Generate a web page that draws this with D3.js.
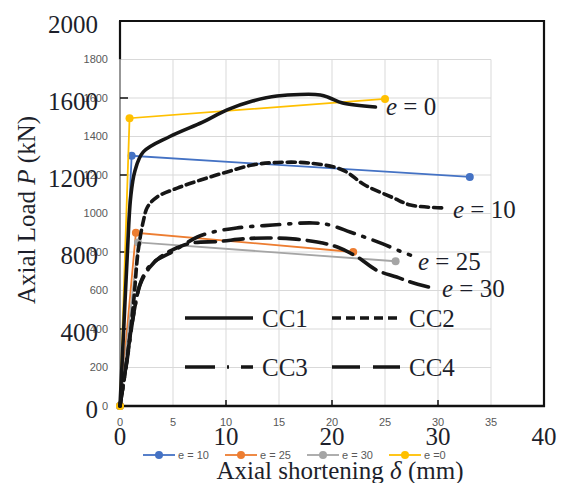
<!DOCTYPE html>
<html lang="en">
<head>
<meta charset="UTF-8">
<title>Axial load vs axial shortening</title>
<script src="https://d3js.org/d3.v7.min.js"></script>
<style>
    body { margin: 0; background: #fff; }
    svg { display: block; }
</style>
</head>
<body>
<script>
    // ---- excel series (with markers), delta in mm, load in kN ----
    var delta_e10 = [0, 1.1, 33];
    var load_e10 = [0, 1300, 1190];
    var delta_e25 = [0, 1.5, 22];
    var load_e25 = [0, 900, 800];
    var delta_e30 = [0, 1.7, 26];
    var load_e30 = [0, 850, 752];
    var delta_e0 = [0, 0.9, 25];
    var load_e0 = [0, 1495, 1595];

    // ---- measured curves (black) ----
    var delta_cc1 = [0, 0.35, 0.7, 1.0, 1.4, 2.2, 4.7, 7.8, 10.1, 12.5, 14.8, 18.9, 19.8, 21.0, 24.1];
    var load_cc1 = [0, 400, 800, 1080, 1220, 1320, 1400, 1475, 1538, 1584, 1610, 1616, 1600, 1574, 1553];
    var delta_cc2 = [0, 0.8, 1.3, 1.7, 2.2, 2.6, 3.5, 5.4, 7.6, 10.1, 12.5, 14.8, 17.9, 21.0, 23.1, 25.8, 27.4, 30.5];
    var load_cc2 = [0, 300, 550, 800, 960, 1034, 1086, 1132, 1174, 1216, 1252, 1265, 1262, 1226, 1148, 1081, 1044, 1029];
    var delta_cc3 = [0, 0.7, 1.3, 2.0, 3.0, 4.9, 7.3, 8.8, 11.0, 14.4, 18.2, 19.8, 21.7, 23.3, 24.8, 26.4, 27.4];
    var load_cc3 = [0, 250, 480, 650, 740, 800, 878, 904, 925, 940, 951, 940, 904, 873, 842, 805, 784];
    var delta_cc4 = [0, 0.6, 1.2, 1.9, 2.8, 3.8, 4.9, 6.6, 9.4, 11.6, 13.9, 16.3, 18.6, 20.5, 22.4, 24.2, 26.1, 27.4, 29.1];
    var load_cc4 = [0, 220, 450, 630, 720, 774, 810, 845, 855, 868, 873, 868, 852, 826, 774, 706, 670, 644, 618];

    // ---- tick labels ----
    var big_x_ticks = [0, 10, 20, 30, 40];
    var big_y_ticks = [0, 400, 800, 1200, 1600, 2000];
    var small_x_ticks = [0, 5, 10, 15, 20, 25, 30, 35];
    var small_y_ticks = [0, 200, 400, 600, 800, 1000, 1200, 1400, 1600, 1800];

    var series_names = ['e = 10', 'e = 25', 'e = 30', 'e =0'];
    var series_colors = ['#4472c4', '#ed7d31', '#a5a5a5', '#ffc000'];
    var curve_names = ['CC1', 'CC2', 'CC3', 'CC4'];
    var curve_labels = ['e = 0', 'e = 10', 'e = 25', 'e = 30'];

    var width = 570, height = 483;
    var svg = d3.select('body').append('svg')
        .attr('width', width)
        .attr('height', height);

    var x = d3.scaleLinear().domain([0, 40]).range([120, 544]);
    var y = d3.scaleLinear().domain([0, 2000]).range([406, 21]);

    var serif = '"Liberation Serif", "Times New Roman", serif';
    var sans = '"Liberation Sans", Arial, sans-serif';
    var ink = '#1d1f2b';

    function zip(xs, ys) {
        return xs.map(function (d, i) { return [d, ys[i]]; });
    }

    // excel gridlines
    var grid = svg.append('g');
    grid.selectAll('line.h')
        .data(small_y_ticks.slice(1))
        .enter().append('line')
        .attr('x1', x(0)).attr('x2', x(35))
        .attr('y1', function (d) { return y(d); })
        .attr('y2', function (d) { return y(d); })
        .attr('stroke', '#d9d9d9').attr('stroke-width', 1);
    grid.selectAll('line.v')
        .data(small_x_ticks.slice(1))
        .enter().append('line')
        .attr('x1', function (d) { return x(d); })
        .attr('x2', function (d) { return x(d); })
        .attr('y1', y(1800)).attr('y2', y(0))
        .attr('stroke', '#d9d9d9').attr('stroke-width', 1);

    // small excel tick labels
    svg.append('g').selectAll('text')
        .data(small_y_ticks)
        .enter().append('text')
        .attr('x', 108)
        .attr('y', function (d) { return y(d); })
        .attr('dy', '0.35em')
        .attr('text-anchor', 'end')
        .style('font-family', sans).style('font-size', '11px')
        .style('fill', '#595959')
        .text(function (d) { return d; });
    svg.append('g').selectAll('text')
        .data(small_x_ticks)
        .enter().append('text')
        .attr('x', function (d) { return x(d); })
        .attr('y', 426)
        .attr('text-anchor', 'middle')
        .style('font-family', sans).style('font-size', '11px')
        .style('fill', '#595959')
        .text(function (d) { return d; });

    // frame of the original figure
    svg.append('line').attr('x1', x(0)).attr('x2', x(0)).attr('y1', y(2000)).attr('y2', y(1800))
        .attr('stroke', '#111').attr('stroke-width', 2.2);
    svg.append('line').attr('x1', x(0)).attr('x2', x(0)).attr('y1', y(1800)).attr('y2', y(0))
        .attr('stroke', '#8c8c8c').attr('stroke-width', 1.8);
    svg.append('line').attr('x1', x(0) - 1).attr('x2', x(40)).attr('y1', y(2000)).attr('y2', y(2000))
        .attr('stroke', '#111').attr('stroke-width', 2.2);
    svg.append('line').attr('x1', x(40)).attr('x2', x(40)).attr('y1', y(2000) - 1).attr('y2', y(0) + 1)
        .attr('stroke', '#111').attr('stroke-width', 2.2);
    svg.append('line').attr('x1', x(0) - 1).attr('x2', x(40) + 1).attr('y1', y(0)).attr('y2', y(0))
        .attr('stroke', '#111').attr('stroke-width', 2.5);
    svg.append('g').selectAll('line')
        .data(big_y_ticks.slice(1, -1))
        .enter().append('line')
        .attr('x1', x(0)).attr('x2', x(0) + 8)
        .attr('y1', function (d) { return y(d); })
        .attr('y2', function (d) { return y(d); })
        .attr('stroke', '#111').attr('stroke-width', 1.5);
    svg.append('g').selectAll('line')
        .data(big_x_ticks.slice(1, -1))
        .enter().append('line')
        .attr('x1', function (d) { return x(d); })
        .attr('x2', function (d) { return x(d); })
        .attr('y1', y(0)).attr('y2', y(0) - 6)
        .attr('stroke', '#111').attr('stroke-width', 1.5);

    // big tick labels
    svg.append('g').selectAll('text')
        .data(big_y_ticks)
        .enter().append('text')
        .attr('x', 98)
        .attr('y', function (d) { return y(d) + 3; })
        .attr('dy', '0.35em')
        .attr('text-anchor', 'end')
        .style('font-family', serif).style('font-size', '25px')
        .style('fill', ink)
        .text(function (d) { return d; });
    svg.append('g').selectAll('text')
        .data(big_x_ticks)
        .enter().append('text')
        .attr('x', function (d) { return x(d); })
        .attr('y', 445)
        .attr('text-anchor', 'middle')
        .style('font-family', serif).style('font-size', '25px')
        .style('fill', ink)
        .text(function (d) { return d; });

    // axis titles
    var yt = svg.append('text')
        .attr('transform', 'translate(35,210) rotate(-90)')
        .attr('text-anchor', 'middle')
        .style('font-family', serif).style('font-size', '25px')
        .style('fill', ink);
    yt.append('tspan').text('Axial Load ');
    yt.append('tspan').style('font-style', 'italic').text('P');
    yt.append('tspan').text(' (kN)');

    var xt = svg.append('text')
        .attr('x', 340).attr('y', 479)
        .attr('text-anchor', 'middle')
        .style('font-family', serif).style('font-size', '25px')
        .style('fill', ink);
    xt.append('tspan').text('Axial shortening ');
    xt.append('tspan').style('font-style', 'italic').text('δ');
    xt.append('tspan').text(' (mm)');

    // excel series
    var excel = [zip(delta_e10, load_e10), zip(delta_e25, load_e25), zip(delta_e30, load_e30), zip(delta_e0, load_e0)];
    var line = d3.line()
        .x(function (d) { return x(d[0]); })
        .y(function (d) { return y(d[1]); });

    excel.forEach(function (pts, i) {
        var g = svg.append('g');
        g.append('path')
            .attr('d', line(pts))
            .attr('fill', 'none')
            .attr('stroke', series_colors[i])
            .attr('stroke-width', 1.8);
        g.selectAll('circle')
            .data(pts)
            .enter().append('circle')
            .attr('cx', function (d) { return x(d[0]); })
            .attr('cy', function (d) { return y(d[1]); })
            .attr('r', 4)
            .attr('fill', series_colors[i]);
    });

    // black measured curves
    var curves = [zip(delta_cc1, load_cc1), zip(delta_cc2, load_cc2), zip(delta_cc3, load_cc3), zip(delta_cc4, load_cc4)];
    var dashes = [null, '8,5', '18,9,2,9', '20,8'];
    var smooth = d3.line()
        .curve(d3.curveCatmullRom.alpha(0.5))
        .x(function (d) { return x(d[0]); })
        .y(function (d) { return y(d[1]); });

    curves.forEach(function (pts, i) {
        svg.append('path')
            .attr('d', smooth(pts))
            .attr('fill', 'none')
            .attr('stroke', '#161616')
            .attr('stroke-width', 3.6)
            .attr('stroke-linecap', 'round')
            .attr('stroke-dasharray', dashes[i]);
    });

    // curve labels
    var label_pos = [[386, 115], [453, 218], [418, 270], [442, 297]];
    curve_labels.forEach(function (t, i) {
        var lt = svg.append('text')
            .attr('x', label_pos[i][0]).attr('y', label_pos[i][1])
            .style('font-family', serif).style('font-size', '25px')
            .style('fill', ink);
        lt.append('tspan').style('font-style', 'italic').text('e');
        lt.append('tspan').text(t.slice(1));
    });

    // in-plot legend of curves
    var leg_pos = [[185, 318], [332, 318], [185, 367], [332, 367]];
    var leg_dash = [null, '9,5', '30,12,2,12', '28,13'];
    curve_names.forEach(function (t, i) {
        svg.append('line')
            .attr('x1', leg_pos[i][0]).attr('x2', leg_pos[i][0] + 68)
            .attr('y1', leg_pos[i][1]).attr('y2', leg_pos[i][1])
            .attr('stroke', '#161616').attr('stroke-width', 3.6)
            .attr('stroke-dasharray', leg_dash[i]);
        svg.append('text')
            .attr('x', leg_pos[i][0] + 77).attr('y', leg_pos[i][1] + 9)
            .style('font-family', serif).style('font-size', '25px')
            .style('fill', ink)
            .text(t);
    });

    // excel legend
    var el_x = [143, 225, 307, 389];
    series_names.forEach(function (t, i) {
        var g = svg.append('g');
        g.append('line')
            .attr('x1', el_x[i]).attr('x2', el_x[i] + 32)
            .attr('y1', 455).attr('y2', 455)
            .attr('stroke', series_colors[i]).attr('stroke-width', 1.8);
        g.append('circle')
            .attr('cx', el_x[i] + 16).attr('cy', 455).attr('r', 4)
            .attr('fill', series_colors[i]);
        g.append('text')
            .attr('x', el_x[i] + 35).attr('y', 459)
            .style('font-family', sans).style('font-size', '11px')
            .style('fill', '#595959')
            .text(t);
    });
</script>
</body>
</html>
